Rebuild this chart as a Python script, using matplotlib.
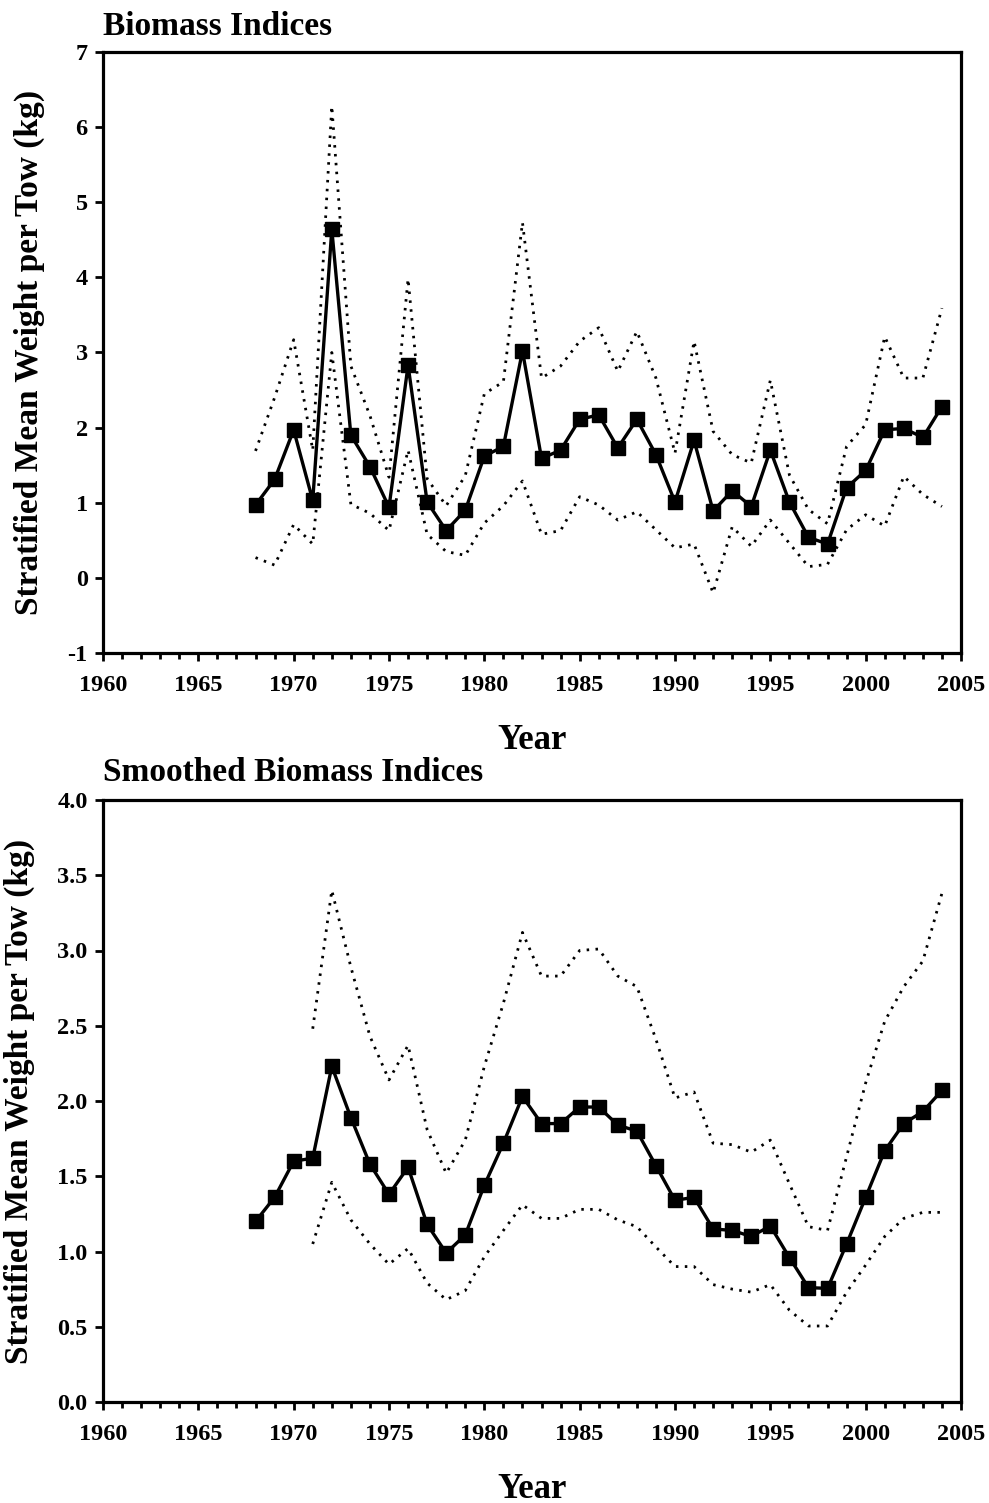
import matplotlib
matplotlib.use("Agg")
import matplotlib.pyplot as plt
from matplotlib.ticker import MultipleLocator, FormatStrFormatter

years = list(range(1968, 2005))

biomass = [0.97, 1.31, 1.97, 1.03, 4.64, 1.90, 1.48, 0.94, 2.83, 1.01,
           0.63, 0.90, 1.62, 1.75, 3.02, 1.59, 1.70, 2.11, 2.17, 1.73,
           2.11, 1.64, 1.01, 1.83, 0.89, 1.16, 0.95, 1.70, 1.01, 0.54,
           0.45, 1.20, 1.43, 1.97, 1.99, 1.87, 2.28]
biomass_upper = [1.69, 2.40, 3.17, 1.70, 6.28, 2.82, 2.16, 1.34, 3.98, 1.32,
                 0.96, 1.36, 2.45, 2.61, 4.73, 2.66, 2.82, 3.15, 3.33, 2.75,
                 3.28, 2.66, 1.66, 3.15, 1.95, 1.64, 1.53, 2.63, 1.37, 0.91,
                 0.72, 1.75, 2.04, 3.21, 2.66, 2.66, 3.59]
biomass_lower = [0.27, 0.17, 0.71, 0.45, 3.00, 0.98, 0.86, 0.63, 1.70, 0.58,
                 0.35, 0.30, 0.73, 0.96, 1.29, 0.58, 0.63, 1.08, 0.97, 0.77,
                 0.88, 0.64, 0.40, 0.45, -0.20, 0.68, 0.42, 0.77, 0.46, 0.15,
                 0.18, 0.64, 0.84, 0.69, 1.35, 1.11, 0.95]

smooth_years = list(range(1968, 2005))
smoothed = [1.20, 1.36, 1.60, 1.62, 2.23, 1.89, 1.58, 1.38, 1.56, 1.18,
            0.99, 1.11, 1.44, 1.72, 2.03, 1.85, 1.85, 1.96, 1.96, 1.84,
            1.80, 1.57, 1.34, 1.36, 1.15, 1.14, 1.10, 1.17, 0.96, 0.76,
            0.755, 1.05, 1.36, 1.67, 1.85, 1.93, 2.07]
ci_years = list(range(1971, 2005))
smooth_upper = [2.48, 3.40, 2.89, 2.43, 2.14, 2.37, 1.81, 1.52, 1.74, 2.23,
                2.65, 3.12, 2.83, 2.83, 3.00, 3.01, 2.83, 2.76, 2.41, 2.02,
                2.06, 1.72, 1.71, 1.66, 1.74, 1.45, 1.165, 1.14, 1.63, 2.12,
                2.53, 2.76, 2.93, 3.38]
smooth_lower = [1.05, 1.46, 1.21, 1.05, 0.915, 1.02, 0.79, 0.68, 0.74, 0.965,
                1.14, 1.31, 1.22, 1.22, 1.28, 1.28, 1.21, 1.165, 1.03, 0.90,
                0.90, 0.78, 0.75, 0.73, 0.78, 0.61, 0.505, 0.505, 0.73, 0.91,
                1.10, 1.22, 1.26, 1.26]

plt.rcParams['font.family'] = ['Liberation Serif', 'DejaVu Serif']
plt.rcParams['font.weight'] = 'bold'
plt.rcParams['axes.unicode_minus'] = False

W, H = 989, 1503
fig = plt.figure(figsize=(W / 100, H / 100), dpi=100)

def axes_px(left, top, right, bottom):
    return fig.add_axes([left / W, 1 - bottom / H, (right - left) / W, (bottom - top) / H])

ax1 = axes_px(103, 52, 961, 653)
ax2 = axes_px(103, 800, 961, 1402)

dot = (0, (0.9, 2.3))

def style(ax):
    for s in ax.spines.values():
        s.set_linewidth(2.3)
    ax.set_xlim(1960, 2005)
    ax.xaxis.set_major_locator(MultipleLocator(5))
    ax.xaxis.set_minor_locator(MultipleLocator(1))
    ax.tick_params(axis='both', which='major', direction='out', length=6, width=2,
                   labelsize=17.5)
    ax.tick_params(axis='x', which='major', pad=10)
    ax.tick_params(axis='y', which='major', pad=5)
    ax.tick_params(axis='x', which='minor', direction='out', length=4, width=2)
    ax.tick_params(axis='y', which='minor', left=False)
    for lab in ax.get_xticklabels() + ax.get_yticklabels():
        lab.set_fontweight('bold')
    ax.set_xlabel('Year', fontsize=25, fontweight='bold', labelpad=20)
    ax.set_ylabel('Stratified Mean Weight per Tow (kg)', fontsize=24, fontweight='bold',
                  labelpad=16)

# Top panel
ax1.plot(years, biomass_upper, color='black', linestyle=dot, linewidth=2.0)
ax1.plot(years, biomass_lower, color='black', linestyle=dot, linewidth=2.0)
ax1.plot(years, biomass, color='black', linewidth=2.4, marker='s', markersize=9.5)
ax1.set_ylim(-1, 7)
ax1.yaxis.set_major_locator(MultipleLocator(1))
style(ax1)
ax1.set_title('Biomass Indices', loc='left', fontsize=24, fontweight='bold', pad=12)

# Bottom panel
ax2.plot(ci_years, smooth_upper, color='black', linestyle=dot, linewidth=2.0)
ax2.plot(ci_years, smooth_lower, color='black', linestyle=dot, linewidth=2.0)
ax2.plot(smooth_years, smoothed, color='black', linewidth=2.4, marker='s', markersize=9.5)
ax2.set_ylim(0, 4)
ax2.yaxis.set_major_locator(MultipleLocator(0.5))
ax2.yaxis.set_major_formatter(FormatStrFormatter('%.1f'))
style(ax2)
ax2.set_title('Smoothed Biomass Indices', loc='left', fontsize=24, fontweight='bold', pad=14)

fig.savefig('out.png', dpi=100)
